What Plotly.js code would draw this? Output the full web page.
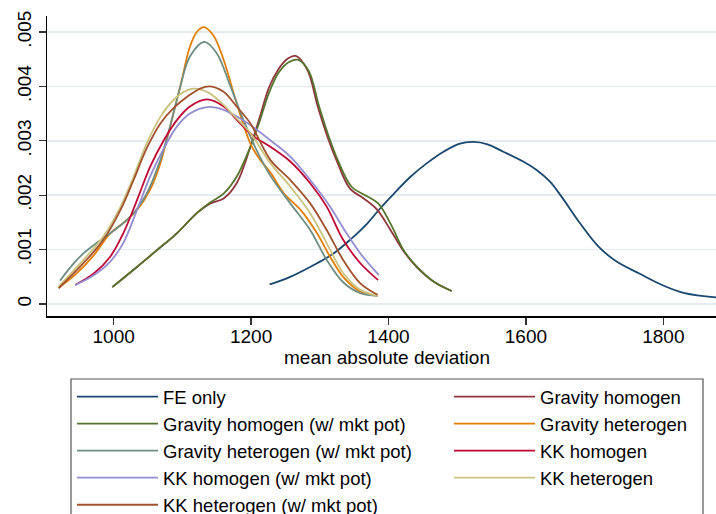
<!DOCTYPE html>
<html>
<head>
<meta charset="utf-8">
<script src="https://cdn.plot.ly/plotly-3.0.1.min.js"></script>
<style>
html,body{margin:0;padding:0;overflow:hidden;background:#fff;}
#chart{width:740px;height:540px;}
</style>
</head>
<body>
<div id="chart"></div>
<script>
// ---- data (kernel density estimates) ----
const seriesNames = ['FE only','Gravity homogen','Gravity homogen (w/ mkt pot)','Gravity heterogen',
  'Gravity heterogen (w/ mkt pot)','KK homogen','KK homogen (w/ mkt pot)','KK heterogen','KK heterogen (w/ mkt pot)'];
const seriesColors = ['#1a476f','#90353b','#55752f','#e37e00','#6e8e84','#c10534','#938dd2','#cac27e','#a0522d'];

const feX = [1227,1257,1296,1320,1344,1369,1388,1408,1432,1456,1480,1504,1524,1543,1567,1596,1616,1635,1652,1679,1706,1732,1765,1798,1831,1880];
const feY = [0.00036,0.00050,0.00075,0.00093,0.00118,0.00148,0.00176,0.00203,0.00234,0.00259,0.00280,0.00295,0.00298,0.00294,0.00280,0.00262,0.00246,0.00225,0.00197,0.00148,0.00105,0.00078,0.00056,0.00035,0.00020,0.00012];

const gravHomX = [998,1029,1063,1092,1121,1141,1160,1179,1199,1213,1226,1240,1252,1265,1282,1297,1311,1325,1344,1364,1383,1402,1422,1441,1466,1492];
const gravHomY = [0.00031,0.00063,0.00099,0.00130,0.00167,0.00185,0.00194,0.00222,0.00289,0.00345,0.00398,0.00432,0.00450,0.00456,0.00430,0.00363,0.00308,0.00262,0.00212,0.00194,0.00174,0.00138,0.00097,0.00068,0.00041,0.00024];

const gravHomMpX = [998,1029,1063,1092,1121,1141,1160,1179,1199,1213,1226,1240,1254,1268,1284,1299,1313,1327,1346,1366,1385,1404,1422,1441,1466,1492];
const gravHomMpY = [0.00031,0.00063,0.00099,0.00130,0.00167,0.00187,0.00203,0.00234,0.00289,0.00338,0.00388,0.00425,0.00444,0.00449,0.00428,0.00363,0.00308,0.00262,0.00216,0.00200,0.00185,0.00145,0.00099,0.00069,0.00041,0.00024];

const gravHetX = [920,945,970,995,1015,1034,1053,1068,1082,1097,1111,1121,1131,1145,1160,1179,1199,1213,1228,1248,1272,1296,1315,1334,1359,1384];
const gravHetY = [0.00030,0.00055,0.00088,0.00130,0.00150,0.00173,0.00210,0.00259,0.00326,0.00400,0.00473,0.00500,0.00509,0.00494,0.00449,0.00369,0.00295,0.00265,0.00242,0.00203,0.00173,0.00130,0.00087,0.00050,0.00023,0.00015];

const gravHetMpX = [922,940,956,975,995,1024,1048,1068,1082,1097,1111,1132,1150,1170,1189,1208,1228,1257,1286,1310,1334,1359,1384];
const gravHetMpY = [0.00043,0.00072,0.00093,0.00112,0.00130,0.00160,0.00203,0.00265,0.00326,0.00400,0.00455,0.00482,0.00461,0.00400,0.00338,0.00283,0.00236,0.00185,0.00136,0.00081,0.00040,0.00020,0.00015];

const kkHomX = [944,971,995,1014,1034,1053,1073,1092,1111,1136,1160,1184,1204,1228,1257,1286,1310,1334,1359,1385];
const kkHomY = [0.00035,0.00056,0.00087,0.00130,0.00191,0.00252,0.00301,0.00338,0.00363,0.00376,0.00363,0.00332,0.00308,0.00289,0.00262,0.00222,0.00179,0.00118,0.00075,0.00044];

const kkHomMpX = [944,971,995,1014,1034,1053,1073,1092,1111,1136,1160,1184,1199,1228,1257,1286,1315,1339,1359,1386];
const kkHomMpY = [0.00035,0.00053,0.00078,0.00112,0.00173,0.00234,0.00286,0.00326,0.00350,0.00362,0.00357,0.00341,0.00329,0.00301,0.00271,0.00228,0.00179,0.00130,0.00093,0.00053];

const kkHetX = [920,956,985,1010,1029,1048,1068,1087,1102,1116,1136,1155,1179,1199,1228,1257,1286,1310,1334,1359,1384];
const kkHetY = [0.00032,0.00081,0.00124,0.00179,0.00234,0.00295,0.00344,0.00375,0.00390,0.00396,0.00390,0.00372,0.00341,0.00314,0.00259,0.00216,0.00167,0.00112,0.00057,0.00026,0.00015];

const kkHetMpX = [920,956,985,1010,1029,1048,1068,1087,1107,1126,1140,1160,1179,1199,1228,1257,1286,1310,1334,1359,1384];
const kkHetMpY = [0.00029,0.00075,0.00118,0.00173,0.00228,0.00286,0.00332,0.00360,0.00381,0.00396,0.00400,0.00390,0.00363,0.00332,0.00265,0.00228,0.00185,0.00136,0.00081,0.00038,0.00017];

const xTickVals = [1000,1200,1400,1600,1800];
const yTickVals = [0,0.001,0.002,0.003,0.004,0.005];
const yTickText = ['0','.001','.002','.003','.004','.005'];
const xTitle = 'mean absolute deviation';

// ---- layout geometry ----
const W = 740, H = 540, ML = 47, MR = 13, MT = 16, MB = 224;
const PW = W - ML - MR, PH = H - MT - MB;
const px2paperX = p => (p - ML) / PW;
const px2paperY = p => (H - MB - p) / PH;

const xs = [feX,gravHomX,gravHomMpX,gravHetX,gravHetMpX,kkHomX,kkHomMpX,kkHetX,kkHetMpX];
const ys = [feY,gravHomY,gravHomMpY,gravHetY,gravHetMpY,kkHomY,kkHomMpY,kkHetY,kkHetMpY];

const FONT = 'Arial, "Liberation Sans", Helvetica, sans-serif';

const traces = seriesNames.map((name, i) => ({
  type: 'scatter', mode: 'lines', name: name,
  x: xs[i], y: ys[i],
  line: {color: seriesColors[i], width: 1.8, shape: 'spline', smoothing: 1},
  legend: (i % 2 === 0) ? 'legend' : 'legend2',
  hoverinfo: 'skip'
}));

const legendCommon = {
  orientation: 'v', xref: 'container', yref: 'container',
  xanchor: 'left', yanchor: 'top',
  bgcolor: 'rgba(0,0,0,0)', borderwidth: 0,
  font: {family: FONT, size: 18.5, color: '#000'},
  itemwidth: 81, tracegroupgap: 0
};

const layout = {
  width: W, height: H,
  margin: {l: ML, r: MR, t: MT, b: MB, pad: 0, autoexpand: false},
  paper_bgcolor: '#fff', plot_bgcolor: '#fff',
  font: {family: FONT, size: 19, color: '#000'},
  showlegend: true,
  legend: Object.assign({}, legendCommon, {x: 72 / W, y: 1 - 378 / H}),
  legend2: Object.assign({}, legendCommon, {x: 449 / W, y: 1 - 378 / H}),
  xaxis: {
    range: [903, 1892.6], autorange: false, automargin: false,
    tickvals: xTickVals, ticks: 'outside', ticklen: 7, tickwidth: 1.2, tickcolor: '#333',
    ticklabelstandoff: -4,
    showline: true, linecolor: '#000', linewidth: 1.5,
    showgrid: false, zeroline: false,
    tickfont: {family: FONT, size: 19, color: '#000'},
    title: {text: xTitle, font: {family: FONT, size: 19, color: '#000'}, standoff: 0}
  },
  yaxis: {
    range: [-0.00022, 0.005294], autorange: false, automargin: false,
    tickvals: yTickVals, ticktext: yTickText, tickangle: -90,
    ticks: 'outside', ticklen: 7, tickwidth: 1.2, tickcolor: '#333',
    showline: true, linecolor: '#000', linewidth: 1.5,
    showgrid: true, gridcolor: '#e4ecef', gridwidth: 1.5, zeroline: false,
    tickfont: {family: FONT, size: 19, color: '#000'}
  },
  shapes: [{
    type: 'rect', xref: 'paper', yref: 'paper',
    x0: px2paperX(71), x1: px2paperX(703), y0: px2paperY(379), y1: px2paperY(600),
    line: {color: '#555', width: 1.2}, fillcolor: 'rgba(0,0,0,0)', layer: 'above'
  }]
};

Plotly.newPlot('chart', traces, layout, {displayModeBar: false, staticPlot: true});
</script>
</body>
</html>
